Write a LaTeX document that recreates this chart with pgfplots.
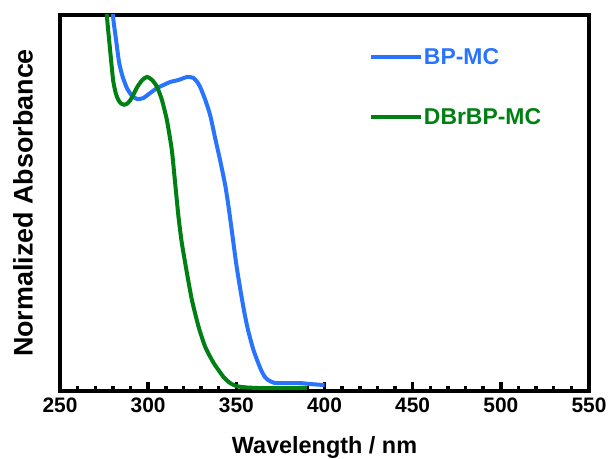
\documentclass[border=0pt]{standalone}
\usepackage{pgfplots}
\pgfplotsset{compat=1.18}
\usepackage{fontspec}
\setmainfont{Liberation Sans}
\definecolor{bpblue}{RGB}{41,116,255}
\definecolor{dgreen}{RGB}{0,128,18}
\begin{document}
\begin{tikzpicture}
\path[use as bounding box] (-60bp,-68bp) rectangle (551bp,391bp);
\begin{axis}[
 scale only axis, width=529bp, height=376bp,
 xmin=250, xmax=550, ymin=0, ymax=1.19,
 xtick={250,300,...,550}, minor x tick num=4,
 ytick=\empty,
 xtick pos=bottom,
 tick align=inside,
 major tick length=9bp, minor tick length=5bp,
 every tick/.style={black, line width=3.5bp},
 axis line style={line width=3.6bp},
 /pgf/number format/assume math mode=true,
 ticklabel style={font=\fontsize{21}{25}\selectfont\bfseries},
 xticklabel style={yshift=-3bp},
 xlabel={Wavelength / nm}, ylabel={Normalized Absorbance},
 xlabel style={font=\fontsize{23.5}{28}\selectfont\bfseries, at={(axis description cs:0.5,-0.165)}, anchor=base},
 ylabel style={font=\fontsize{27}{32}\selectfont\bfseries, at={(axis description cs:-0.0699,0.5)}, anchor=center},
 legend style={at={(axis description cs:0.579,0.919)}, anchor=north west, draw=none, fill=none,
   font=\fontsize{23}{27}\selectfont\bfseries, row sep=42bp, column sep=0bp, nodes={inner sep=0.5bp}},
 legend cell align=left,
 legend image code/.code={\draw[#1,line width=4bp] (0bp,0bp) -- (50bp,0bp);},
]
\addplot[color=bpblue, line width=4bp, smooth, tension=0.35] coordinates {
(279.2,1.28) (280.1,1.184) (281.8,1.111) (283.5,1.04) (285.5,0.995) (288.0,0.958)
(290.9,0.934) (293.8,0.924) (297.2,0.927) (301.1,0.943) (305.1,0.959) (308.5,0.968)
(312.5,0.978) (317.0,0.984) (322.2,0.994) (325.6,0.991) (327.8,0.978) (329.5,0.962)
(332.4,0.921) (335.2,0.872) (338.0,0.80) (341.0,0.725) (343.8,0.648) (345.8,0.575)
(347.6,0.50) (350.0,0.40) (352.3,0.32) (354.5,0.25) (356.5,0.196) (359.7,0.130)
(363.6,0.072) (366.0,0.046) (368.2,0.034) (372.2,0.025) (380,0.025) (386.4,0.025)
(392,0.022) (399.4,0.019) (400,0.019)
};
\addlegendentry{\textcolor{bpblue}{BP-MC}}
\addplot[color=dgreen, line width=4bp, smooth, tension=0.35] coordinates {
(275.8,1.28) (276.7,1.18) (278.4,1.08) (280.1,0.985) (281.5,0.945) (283,0.922)
(284.6,0.910) (286.4,0.906) (288.2,0.910) (289.8,0.92) (291.8,0.940) (293.8,0.962)
(296.6,0.984) (299.4,0.994) (302.3,0.984) (305.1,0.962) (307.8,0.921) (310.6,0.858)
(313.4,0.763) (315.3,0.658) (317.2,0.551) (319.1,0.468) (322.0,0.373) (324.8,0.288)
(328.6,0.203) (332.4,0.139) (337.1,0.089) (342.8,0.044) (346.5,0.025) (350.4,0.015)
(356.3,0.011) (365,0.009) (371,0.009) (380,0.009) (390,0.01)
};
\addlegendentry{\textcolor{dgreen}{DBrBP-MC}}
\end{axis}
\end{tikzpicture}
\end{document}
